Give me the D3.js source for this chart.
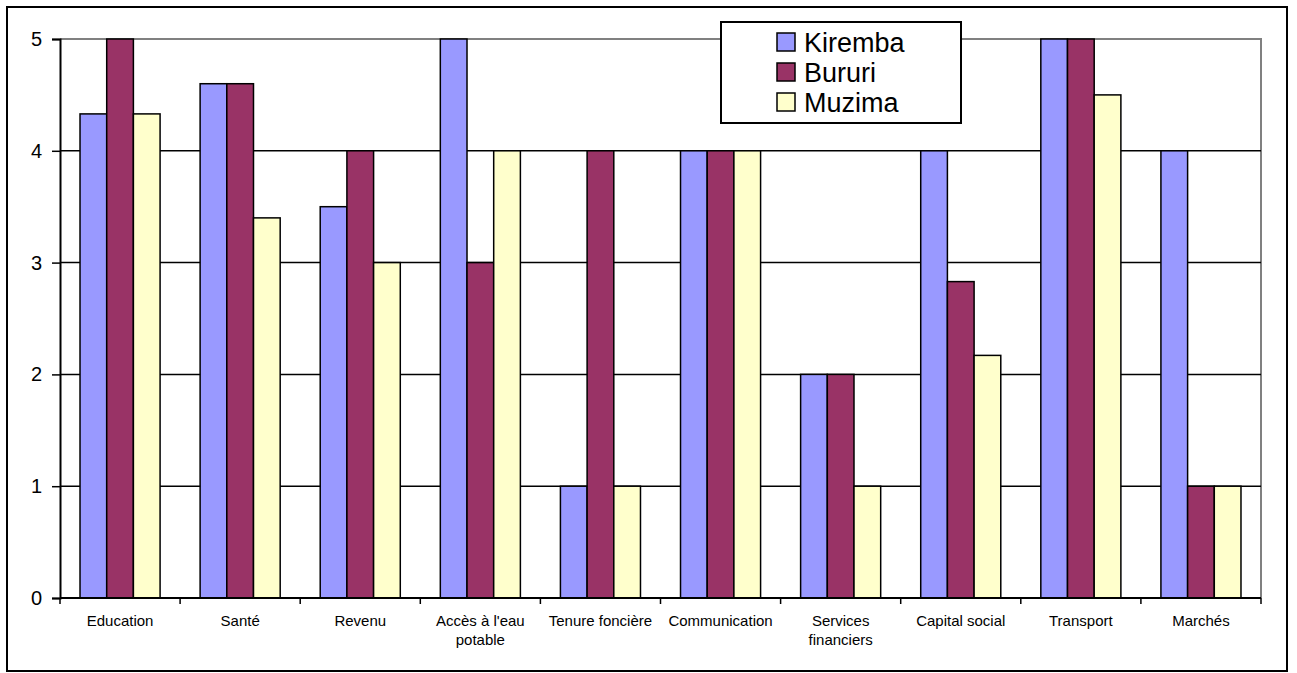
<!DOCTYPE html>
<html>
<head>
  <meta charset="utf-8">
  <title>Chart</title>
  <style>
    body { margin: 0; background: #fff; }
    text { font-family: "Liberation Sans", Arial, sans-serif; }
  </style>
  <script src="https://d3js.org/d3.v7.min.js"></script>
</head>
<body>
  <svg id="chart" width="1297" height="673"></svg>
  <script>
    // categories (labels split on lines)
    const categories = ["Education", "Santé", "Revenu", "Accès à l'eau potable", "Tenure foncière",
      "Communication", "Services financiers", "Capital social", "Transport", "Marchés"]
    const categoryLines = [["Education"], ["Santé"], ["Revenu"], ["Accès à l'eau", "potable"], ["Tenure foncière"],
      ["Communication"], ["Services", "financiers"], ["Capital social"], ["Transport"], ["Marchés"]]

    const seriesNames = ["Kiremba", "Bururi", "Muzima"]
    const kiremba = [4.33, 4.6, 3.5, 5, 1, 4, 2, 4, 5, 4]
    const bururi = [5, 4.6, 4, 3, 4, 4, 2, 2.83, 5, 1]
    const muzima = [4.33, 3.4, 3, 4, 1, 4, 1, 2.17, 4.5, 1]
    const yTicks = [0, 1, 2, 3, 4, 5]
    const colors = ["#9999FF", "#993366", "#FFFFCC"]

    const series = [kiremba, bururi, muzima]

    const svg = d3.select("#chart")

    // outer frame
    svg.append("rect")
      .attr("x", 7).attr("y", 7)
      .attr("width", 1280).attr("height", 664)
      .attr("fill", "#fff")
      .attr("stroke", "#000")
      .attr("stroke-width", 2)

    const plotLeft = 60, plotRight = 1261, plotTop = 39, plotBottom = 598

    const x = d3.scaleBand()
      .domain(categories)
      .range([plotLeft, plotRight])
      .paddingInner(0)
      .paddingOuter(0)

    const sub = d3.scaleBand()
      .domain(seriesNames)
      .range([0, x.bandwidth()])
      .paddingOuter(0.75)   // gap width 150%
      .paddingInner(0)

    const y = d3.scaleLinear()
      .domain([0, 5])
      .range([plotBottom, plotTop])

    // plot area border (grey top/right)
    svg.append("path")
      .attr("d", `M${plotLeft},${plotTop}H${plotRight}V${plotBottom}`)
      .attr("fill", "none")
      .attr("stroke", "#808080")
      .attr("stroke-width", 2)

    // gridlines
    svg.append("g")
      .selectAll("line")
      .data(yTicks.filter(t => t > 0 && t < 5))
      .enter()
      .append("line")
      .attr("x1", plotLeft).attr("x2", plotRight)
      .attr("y1", d => y(d)).attr("y2", d => y(d))
      .attr("stroke", "#000")
      .attr("stroke-width", 1.5)

    // bars
    const groups = svg.append("g")
      .selectAll("g")
      .data(series)
      .enter()
      .append("g")
      .attr("fill", (d, i) => colors[i])

    groups.selectAll("rect")
      .data((d, i) => d.map((v, j) => ({ v: v, cat: categories[j], s: seriesNames[i] })))
      .enter()
      .append("rect")
      .attr("x", d => x(d.cat) + sub(d.s))
      .attr("width", sub.bandwidth())
      .attr("y", d => y(d.v))
      .attr("height", d => y(0) - y(d.v))
      .attr("stroke", "#000")
      .attr("stroke-width", 1.5)

    // y axis
    const yAxis = svg.append("g")
      .attr("transform", `translate(${plotLeft},0)`)
      .call(d3.axisLeft(y).tickValues(yTicks).tickSize(8).tickPadding(10).tickFormat(d3.format("d")))
    yAxis.select(".domain").attr("stroke", "#000").attr("stroke-width", 2)
    yAxis.selectAll(".tick line").attr("stroke", "#000").attr("stroke-width", 1.5)
    yAxis.selectAll(".tick text")
      .attr("font-size", 20)
      .attr("fill", "#000")
      .style("font-family", "'Liberation Sans', Arial, sans-serif")

    // x axis line and ticks at category boundaries
    svg.append("line")
      .attr("x1", plotLeft).attr("x2", plotRight)
      .attr("y1", plotBottom).attr("y2", plotBottom)
      .attr("stroke", "#000").attr("stroke-width", 2)

    const bounds = categories.map(c => x(c)).concat([plotRight])
    svg.append("g")
      .selectAll("line")
      .data(bounds)
      .enter()
      .append("line")
      .attr("x1", d => d).attr("x2", d => d)
      .attr("y1", plotBottom).attr("y2", plotBottom + 6)
      .attr("stroke", "#000").attr("stroke-width", 1.5)

    // x labels
    const labels = svg.append("g")
      .selectAll("text")
      .data(categories)
      .enter()
      .append("text")
      .attr("x", d => x(d) + x.bandwidth() / 2)
      .attr("y", 626)
      .attr("text-anchor", "middle")
      .attr("font-size", 15)
      .attr("fill", "#000")

    labels.selectAll("tspan")
      .data((d, i) => categoryLines[i])
      .enter()
      .append("tspan")
      .attr("x", function() { return d3.select(this.parentNode).attr("x") })
      .attr("dy", (d, i) => i === 0 ? 0 : 19)
      .text(d => d)

    // legend
    const legend = svg.append("g")
    legend.append("rect")
      .attr("x", 721).attr("y", 22)
      .attr("width", 240).attr("height", 101)
      .attr("fill", "#fff")
      .attr("stroke", "#000")
      .attr("stroke-width", 2)

    const items = legend.selectAll("g")
      .data(seriesNames)
      .enter()
      .append("g")
      .attr("transform", (d, i) => `translate(777,${33 + i * 30})`)

    items.append("rect")
      .attr("width", 18).attr("height", 18)
      .attr("fill", (d, i) => colors[i])
      .attr("stroke", "#000")
      .attr("stroke-width", 1.5)

    items.append("text")
      .attr("x", 27)
      .attr("y", 19)
      .attr("font-size", 27)
      .attr("fill", "#000")
      .text(d => d)
  </script>
</body>
</html>
